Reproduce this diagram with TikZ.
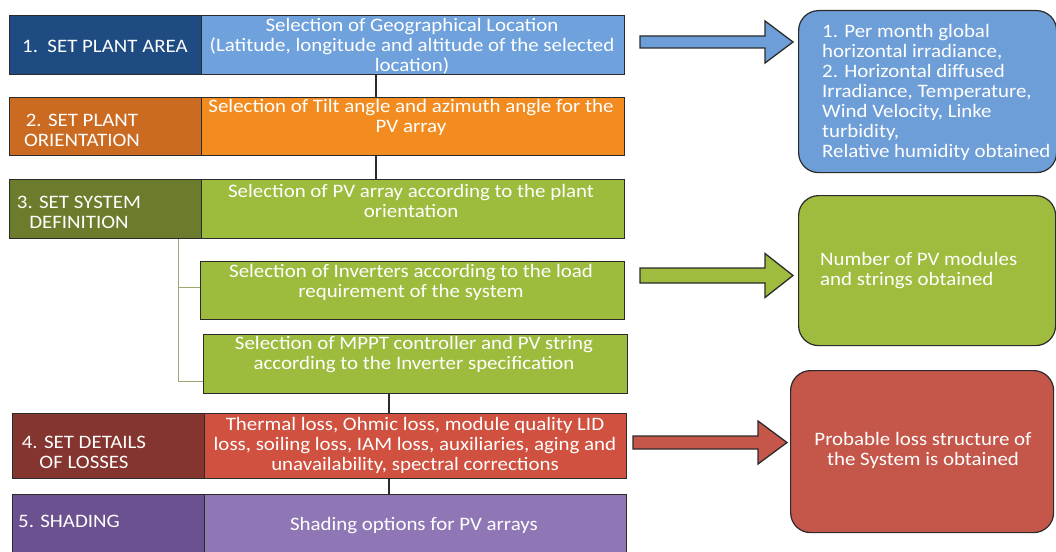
\documentclass[tikz,border=0pt]{standalone}
\usepackage{fontspec}
\setmainfont{Carlito}[FakeStretch=1.1]
\usetikzlibrary{calc}
\definecolor{edge}{HTML}{2B2B2B}
\definecolor{treec}{HTML}{9AAA70}
\definecolor{cAL}{HTML}{1E4C82}
\definecolor{cAR}{HTML}{6FA1DC}
\definecolor{cBL}{HTML}{CB6B22}
\definecolor{cBR}{HTML}{F28C20}
\definecolor{cCL}{HTML}{6B7D2C}
\definecolor{cCR}{HTML}{9DBB3D}
\definecolor{cDL}{HTML}{84352F}
\definecolor{cDR}{HTML}{D0513F}
\definecolor{cEL}{HTML}{6C5190}
\definecolor{cER}{HTML}{8F77B6}
\definecolor{cBlue}{HTML}{6E9ED8}
\definecolor{cGreen}{HTML}{9FBC3E}
\definecolor{cRed}{HTML}{C4574A}
\newcommand\blockarrow[6]{%
  \filldraw[barrow, fill=#6] ($(#1)+(0,-#3)$) -- ($(#2)+(-#5,-#3)$) -- ($(#2)+(-#5,-#4)$) -- (#2)
    -- ($(#2)+(-#5,#4)$) -- ($(#2)+(-#5,#3)$) -- ($(#1)+(0,#3)$) -- cycle;}
\begin{document}
\begin{tikzpicture}[x=1pt,y=-1pt,
  box/.style={draw=edge, line width=1.2pt, inner sep=0pt, anchor=north west},
  rbox/.style={box, rounded corners=20pt},
  txt/.style={text=white, font=\fontsize{19}{20}\selectfont, inner sep=0pt},
  link/.style={draw=edge, line width=1.2pt},
  tree/.style={draw=treec, line width=1pt},
  barrow/.style={draw=edge, line width=1.3pt, line join=miter}]
\useasboundingbox (0,0) rectangle (1056,551);
% boxes
\node[box, fill=cAL, minimum width=192pt, minimum height=59pt] (r1l) at (9,15) {};
\node[box, fill=cAR, minimum width=423pt, minimum height=59pt] (r1r) at (201,15) {};
\node[box, fill=cBL, minimum width=192pt, minimum height=58pt] (r2l) at (9,97) {};
\node[box, fill=cBR, minimum width=423pt, minimum height=58pt] (r2r) at (201,97) {};
\node[box, fill=cCL, minimum width=192pt, minimum height=59pt] (r3l) at (9,179) {};
\node[box, fill=cCR, minimum width=423pt, minimum height=59pt] (r3r) at (201,179) {};
\node[box, fill=cCR, minimum width=424pt, minimum height=58pt] (inv) at (200,261) {};
\node[box, fill=cCR, minimum width=424pt, minimum height=59pt] (mppt) at (203,334) {};
\node[box, fill=cDL, minimum width=192pt, minimum height=65pt] (r4l) at (12,413) {};
\node[box, fill=cDR, minimum width=422pt, minimum height=65pt] (r4r) at (204,413) {};
\node[box, fill=cEL, minimum width=192pt, minimum height=64pt] (r5l) at (12,494) {};
\node[box, fill=cER, minimum width=422pt, minimum height=64pt] (r5r) at (204,494) {};
\node[rbox, fill=cBlue, minimum width=258pt, minimum height=162pt] (bluebox) at (798,10) {};
\node[rbox, fill=cGreen, minimum width=257pt, minimum height=150pt] (greenbox) at (798,195) {};
\node[rbox, fill=cRed, minimum width=263pt, minimum height=162pt] (redbox) at (790,370) {};
% texts
\node[txt] (t1l) at (105,46) {1.\ \ SET PLANT AREA};
\node[txt, align=center] (t1r) at (412,46) {Selection of Geographical Location\\(Latitude, longitude and altitude of the selected\\location)};
\node[txt, align=center] (t2l) at (82,130) {2. SET PLANT\\ORIENTATION};
\node[txt, align=center] (t2r) at (411,117) {Selection of Tilt angle and azimuth angle for the\\PV array};
\node[txt, align=center] (t3l) at (79,212) {3. SET SYSTEM\\DEFINITION};
\node[txt, align=center] (t3r) at (411,201) {Selection of PV array according to the plant\\orientation};
\node[txt, align=center] (tinv) at (411,282) {Selection of Inverters according to the load\\requirement of the system};
\node[txt, align=center] (tmppt) at (414,355) {Selection of MPPT controller and PV string\\according to the Inverter specification};
\node[txt, align=center] (t4l) at (84,452) {4. SET DETAILS\\OF LOSSES};
\node[txt, align=center] (t4r) at (415,445) {Thermal loss, Ohmic loss, module quality LID\\loss, soiling loss, IAM loss, auxiliaries, aging and\\unavailability, spectral corrections};
\node[txt, anchor=west] (t5l) at (18,521) {5. SHADING};
\node[txt] (t5r) at (414,526) {Shading options for PV arrays};
\node[txt, align=left, anchor=west] (tblue) at (822,92) {1. Per month global\\horizontal irradiance,\\2. Horizontal diffused\\Irradiance, Temperature,\\Wind Velocity, Linke\\turbidity,\\Relative humidity obtained};
\node[txt, align=left, anchor=west] (tgreen) at (820,271) {Number of PV modules\\and strings obtained};
\node[txt, align=center] (tred) at (923,450.5) {Probable loss structure of\\the System is obtained};
% connectors
\coordinate (va) at (376,0);
\coordinate (vb) at (389,0);
\coordinate (tv) at (178,0);
\draw[link] (r1r.south -| va) -- (r2r.north -| va);
\draw[link] (r2r.south -| va) -- (r3r.north -| va);
\draw[link] (mppt.south -| vb) -- (r4r.north -| vb);
\draw[link] (r4r.south -| vb) -- (r5r.north -| vb);
\draw[tree] (r3l.south -| tv) |- ([yshift=3pt]inv.west);
\draw[tree] (r3l.south -| tv) |- ([yshift=-17.5pt]mppt.west);
% block arrows
\coordinate (a1s) at (640,42);
\coordinate (a1e) at (793,42);
\coordinate (a2s) at (640,275.5);
\coordinate (a2e) at (793,275.5);
\coordinate (a3s) at (633,442.5);
\coordinate (a3e) at (787,442.5);
\blockarrow{a1s}{a1e}{6}{21}{28}{cBlue}
\blockarrow{a2s}{a2e}{7.5}{22}{28}{cGreen}
\blockarrow{a3s}{a3e}{6.5}{21.5}{29}{cRed}
\end{tikzpicture}
\end{document}
